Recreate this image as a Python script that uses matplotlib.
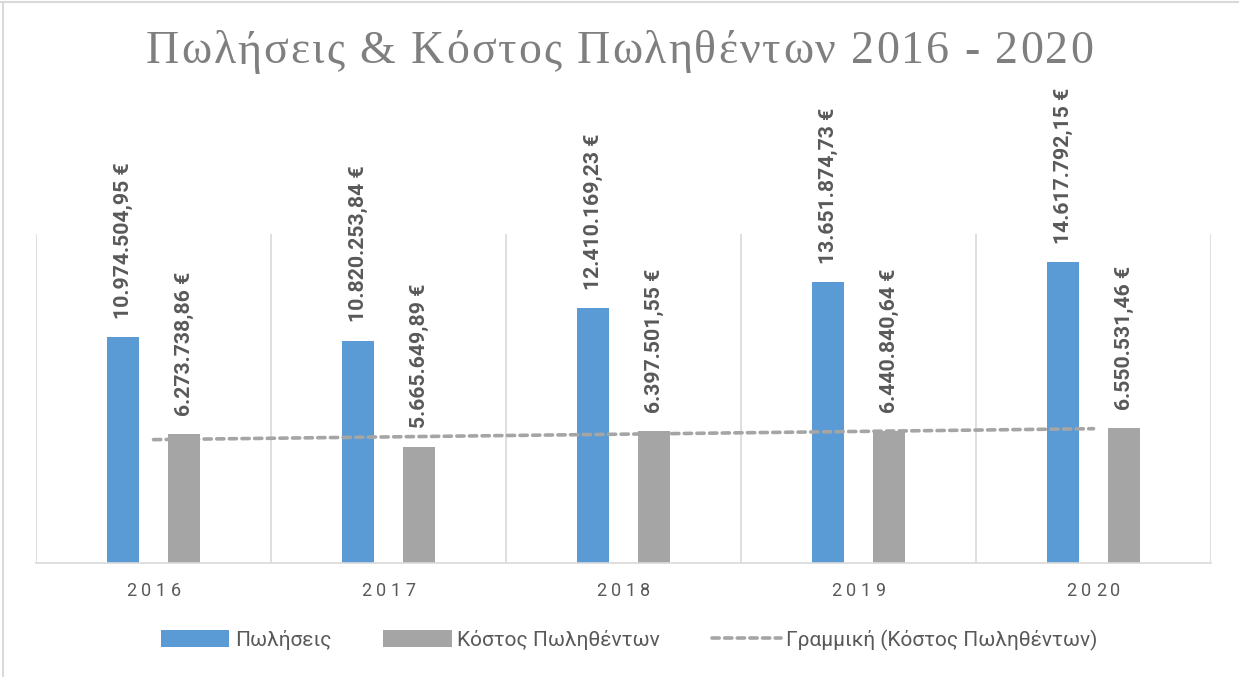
import numpy as np
import matplotlib
matplotlib.use('Agg')
import matplotlib.pyplot as plt
from matplotlib.lines import Line2D

# Δεδομένα
years = ['2016', '2017', '2018', '2019', '2020']
sales = [10974504.95, 10820253.84, 12410169.23, 13651874.73, 14617792.15]
costs = [6273738.86, 5665649.89, 6397501.55, 6440840.64, 6550531.46]
sales_labels = ['10.974.504,95 €', '10.820.253,84 €', '12.410.169,23 €',
                '13.651.874,73 €', '14.617.792,15 €']
cost_labels = ['6.273.738,86 €', '5.665.649,89 €', '6.397.501,55 €',
               '6.440.840,64 €', '6.550.531,46 €']
title = 'Πωλήσεις & Κόστος Πωληθέντων 2016 - 2020'

blue = '#5B9BD5'
grey = '#A5A5A5'
txt = '#595959'
grid = '#D9D9D9'

plt.rcParams['font.family'] = ['Roboto', 'DejaVu Sans']

fig = plt.figure(figsize=(12.39, 6.77), dpi=100)
ax = fig.add_axes([36/1239, 114/677, 1175/1239, 329/677])
renderer = fig.canvas.get_renderer()


def spaced_text(xc, yc, s, gap, **kw):
    # κείμενο με απόσταση γραμμάτων (σε pixel), κεντραρισμένο στο xc, yc (figure coords)
    parts = []
    for ch in s:
        t = fig.text(0, yc, ch, ha='left', va='center', **kw)
        bb = t.get_window_extent(renderer)
        parts.append((t, bb.width))
    total = sum(wd for _, wd in parts) + gap * (len(parts) - 1)
    xpix = xc * fig.bbox.width - total / 2
    for t, wd in parts:
        t.set_x(xpix / fig.bbox.width)
        xpix += wd + gap


x = np.arange(len(years))
w = 0.136
off = 0.13
b1 = ax.bar(x - off, sales, width=w, color=blue, label='Πωλήσεις', zorder=2)
b2 = ax.bar(x + off, costs, width=w, color=grey, label='Κόστος Πωληθέντων', zorder=2)

# γραμμική τάση κόστους
k, b = np.polyfit(x, costs, 1)
ln, = ax.plot(x, k * x + b, color=grey, lw=2.6, dashes=(2.0, 1.5),
              dash_capstyle='round', label='Γραμμική (Κόστος Πωληθέντων)', zorder=3)

for i in range(len(years)):
    ax.annotate(sales_labels[i], (x[i] - off, sales[i]), xytext=(0, 13),
                textcoords='offset points', rotation=90, ha='center', va='bottom',
                fontsize=15.3, fontweight='bold', color=txt)
    ax.annotate(cost_labels[i], (x[i] + off, costs[i]), xytext=(0, 13),
                textcoords='offset points', rotation=90, ha='center', va='bottom',
                fontsize=15.3, fontweight='bold', color=txt)

ax.set_xlim(-0.5, 4.5)
ax.set_ylim(0, 16000000)
ax.set_yticks([])
ax.set_xticks(x)
ax.set_xticklabels([])
ax.tick_params(axis='x', length=0)
ax.set_xticks(np.arange(-0.5, 5, 1), minor=True)
ax.tick_params(axis='x', which='minor', length=0)
ax.grid(axis='x', which='minor', color=grid, lw=1.2, zorder=0)
for s in ['top', 'right', 'left']:
    ax.spines[s].set_visible(False)
ax.spines['bottom'].set_color(grid)
ax.spines['bottom'].set_linewidth(1.2)

# ετικέτες ετών με αραιωμένα γράμματα
for i, yr in enumerate(years):
    xf = ax.transData.transform((x[i], 0))[0] / fig.bbox.width
    spaced_text(xf, 1 - 591/677, yr, 4.5, fontsize=13, color=txt)

spaced_text(0.5, 1 - 52/677, title, 2.0, fontsize=33, color='#7F7F7F',
            family='Liberation Serif')

fig.legend(handles=[b1, b2, ln], loc='center', bbox_to_anchor=(629/1239, 1 - 640/677),
           ncol=3, frameon=False, fontsize=15, labelcolor=txt, handlelength=3.3,
           handleheight=0.85, handletextpad=0.25, columnspacing=2.5)

# περίγραμμα
fig.add_artist(Line2D([0, 1], [1 - 2/677, 1 - 2/677], transform=fig.transFigure,
                      color=grid, lw=1.5))
fig.add_artist(Line2D([3/1239, 3/1239], [0, 1 - 2/677], transform=fig.transFigure,
                      color=grid, lw=1.5))

fig.savefig('out.png', dpi=100)
